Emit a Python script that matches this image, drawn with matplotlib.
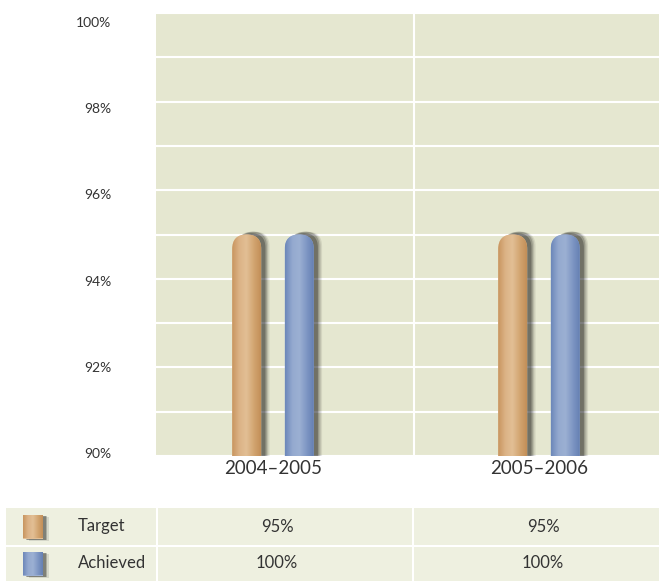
import numpy as np
import matplotlib
matplotlib.use('Agg')
import matplotlib.pyplot as plt
from matplotlib.patches import FancyBboxPatch, Rectangle
from matplotlib.colors import LinearSegmentedColormap
from matplotlib.transforms import ScaledTranslation, blended_transform_factory
import matplotlib.patheffects as pe

#--- data
periods = ['2004–2005', '2005–2006']
target = [95, 95]
achieved = [95, 95]          # bar heights as drawn
target_text = ['95%', '95%']
achieved_text = ['100%', '100%']
series = ['Target', 'Achieved']
y_ticks = [90, 92, 94, 96, 98, 100]

plt.rcParams['font.family'] = ['Lato', 'DejaVu Sans']

bg = '#e5e7d0'
cell_bg = '#eef0e0'
text_c = '#333333'
target_cmap = LinearSegmentedColormap.from_list(
    't', ['#c8955f', '#dcb386', '#e2bf95', '#d3a672', '#c38f58'])
achieved_cmap = LinearSegmentedColormap.from_list(
    'a', ['#6d88ba', '#94a9cf', '#9cb0d3', '#7f97c4', '#6580b3'])

W, H = 659, 581
fig = plt.figure(figsize=(W / 100, H / 100), dpi=100)
ax = fig.add_axes([156 / W, 1 - 456 / H, (W - 156) / W, 443 / H])
ax.set_facecolor(bg)
unit = 266.0                       # pixels per category
x_left = -(273 - 156) / unit
x_right = x_left + (W - 156) / unit
ax.set_xlim(x_left, x_right)
ax.set_ylim(90, 100)
for s in ax.spines.values():
    s.set_visible(False)

ax.set_yticks(y_ticks)
ax.set_yticklabels([f'{v}%' for v in y_ticks], fontsize=10, color=text_c)
ax.set_yticks(range(90, 101), minor=True)
ax.grid(True, axis='y', which='both', color='white', lw=1.5)
ax.tick_params(axis='both', which='both', length=0)
ax.tick_params(axis='y', pad=32)
ax.set_xticks(range(len(periods)))
ax.set_xticklabels(periods, fontsize=13.5, color=text_c)
ax.tick_params(axis='x', pad=3)
ax.axvline(0.53, color='white', lw=1.5)
ax.set_axisbelow(True)

# labels on the y axis sit a bit lower near the top
for v, lab in zip(y_ticks, ax.get_yticklabels()):
    off = 9 - 12 * (100 - v) / 10
    lab.set_transform(lab.get_transform() +
                      ScaledTranslation(0, -off / 100, fig.dpi_scale_trans))

px_x = 1.0 / unit
px_y = 10.0 / 443
bar_w = 29 * px_x
offset = 26.25 * px_x
rad = bar_w / 2
shadow = [pe.SimplePatchShadow(offset=(6, 2), shadow_rgbFace='k', alpha=0.08),
          pe.SimplePatchShadow(offset=(5, 2), shadow_rgbFace='k', alpha=0.12),
          pe.SimplePatchShadow(offset=(4, 2), shadow_rgbFace='k', alpha=0.18),
          pe.SimplePatchShadow(offset=(3, 1), shadow_rgbFace='k', alpha=0.25),
          pe.Normal()]


def round_bar(axis, xc, top, bottom, cmap, aspect):
    x0 = xc - bar_w / 2
    p = FancyBboxPatch((x0, bottom), bar_w, top - bottom,
                       boxstyle=f'round,pad=0,rounding_size={rad}',
                       mutation_aspect=aspect, fc=cmap(0.5), ec='none',
                       zorder=3)
    p.set_path_effects(shadow)
    axis.add_patch(p)
    grad = np.linspace(0, 1, 64).reshape(1, -1)
    im = axis.imshow(grad, cmap=cmap, extent=[x0, x0 + bar_w, bottom, top],
                     aspect='auto', zorder=4, interpolation='bilinear')
    im.set_clip_path(p)


for i in range(len(periods)):
    round_bar(ax, i - offset, target[i], 88, target_cmap, px_y / px_x)
    round_bar(ax, i + offset, achieved[i], 88, achieved_cmap, px_y / px_x)
ax.set_xlim(x_left, x_right)
ax.set_ylim(90, 100)

#--- data table under the chart
tax = fig.add_axes([0, 0, 1, 74 / H])
tax.set_xlim(0, W)
tax.set_ylim(0, 74)
tax.axis('off')
col_edges = [5, 157, 413, W + 5]
row_edges = [74, 35, -5]
for r in range(2):
    for c in range(3):
        tax.add_patch(Rectangle((col_edges[c] + 1, row_edges[r + 1] + 1),
                                col_edges[c + 1] - col_edges[c] - 2,
                                row_edges[r] - row_edges[r + 1] - 2,
                                fc=cell_bg, ec='none'))

texts = [target_text, achieved_text]
cmaps = [target_cmap, achieved_cmap]
val_tr = blended_transform_factory(ax.transData, tax.transData)
sw_shadow = [pe.SimplePatchShadow(offset=(4, -2), shadow_rgbFace='k', alpha=0.1),
             pe.SimplePatchShadow(offset=(3, -1), shadow_rgbFace='k', alpha=0.2),
             pe.SimplePatchShadow(offset=(2, -1), shadow_rgbFace='k', alpha=0.25),
             pe.Normal()]
for r, name in enumerate(series):
    yc = (row_edges[r] + max(row_edges[r + 1], 0)) / 2
    sw = Rectangle((23, yc - 12), 20, 24, fc=cmaps[r](0.5), ec='none')
    sw.set_path_effects(sw_shadow)
    tax.add_patch(sw)
    g = tax.imshow(np.linspace(0, 1, 64).reshape(1, -1), cmap=cmaps[r],
                   extent=[23, 43, yc - 12, yc + 12], aspect='auto',
                   interpolation='bilinear', zorder=3)
    g.set_clip_path(sw)
    tax.text(78, yc, name, fontsize=12, color=text_c, va='center', ha='left')
    for c in range(len(periods)):
        tax.text(c + 4 * px_x, yc, texts[r][c], fontsize=12, color=text_c,
                 va='center', ha='center', transform=val_tr)
tax.set_xlim(0, W)
tax.set_ylim(0, 74)

fig.savefig('out.png', dpi=100)
